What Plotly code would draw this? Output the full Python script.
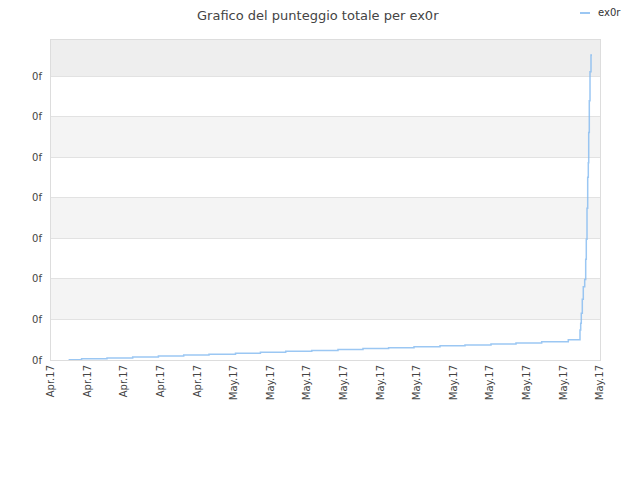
import plotly.graph_objects as go

# score history for ex0r (y in score units, 1000 per gridline)
dates = [
    "2017-04-22 23:05", "2017-04-23 16:08", "2017-04-25 01:26", "2017-04-26 11:08",
    "2017-04-27 20:51", "2017-04-29 06:02", "2017-04-30 15:13", "2017-05-02 01:58",
    "2017-05-03 10:38", "2017-05-04 19:48", "2017-05-06 06:01", "2017-05-07 16:23",
    "2017-05-09 01:10", "2017-05-10 10:45", "2017-05-11 20:04", "2017-05-13 06:10",
    "2017-05-14 14:57", "2017-05-16 01:03", "2017-05-17 09:50", "2017-05-18 19:32",
    "2017-05-20 06:26", "2017-05-20 21:46", "2017-05-20 22:41", "2017-05-20 23:28",
    "2017-05-21 00:47", "2017-05-21 02:05", "2017-05-21 03:56", "2017-05-21 05:15",
    "2017-05-21 06:01", "2017-05-21 06:58", "2017-05-21 07:52", "2017-05-21 08:40",
    "2017-05-21 09:12", "2017-05-21 09:58", "2017-05-21 10:54", "2017-05-21 12:12",
    "2017-05-21 13:31",
]
scores = [
    5, 28, 52, 75, 98, 122, 145, 168, 190, 213, 236, 258, 281, 304, 326, 349,
    372, 394, 417, 450, 500, 740, 905, 1153, 1498, 1810, 1990, 2486, 2980,
    3745, 4510, 4870, 5615, 6400, 7115, 7530, 7530,
]
y_ticks = [0, 1000, 2000, 3000, 4000, 5000, 6000, 7000]
y_labels = ["0f"] * len(y_ticks)
series_name = "ex0r"
title = "Grafico del punteggio totale per ex0r"

line_color = "rgba(130,185,240,0.8)"

fig = go.Figure()

fig.add_trace(go.Scatter(
    x=dates, y=scores, name=series_name,
    mode="lines", line_shape="hv",
    line=dict(color=line_color, width=1.5),
    showlegend=False,
))

# alternating background bands
for i, lo in enumerate(y_ticks):
    if i % 2 == 1:
        hi = y_ticks[i + 1] if i + 1 < len(y_ticks) else 7900
        fig.add_shape(type="rect", xref="paper", yref="y", x0=0, x1=1, y0=lo, y1=hi,
                      fillcolor="#f4f4f4", line_width=0, layer="below")
fig.add_shape(type="rect", xref="paper", yref="y", x0=0, x1=1, y0=7000, y1=7900,
              fillcolor="#eeeeee", line_width=0, layer="below")

# legend swatch
fig.add_shape(type="line", xref="paper", yref="paper", x0=0.9636, x1=0.9818,
              y0=1.0 + 27 / 320, y1=1.0 + 27 / 320, line=dict(color=line_color, width=2))
fig.add_annotation(text=series_name, xref="paper", yref="paper", x=0.993, y=1.0 + 27 / 320,
                   xanchor="left", yanchor="middle", showarrow=False,
                   font=dict(size=10, color="#333333"))

# page has an 8px body margin, so the margins are shifted to compensate
fig.update_layout(
    width=640, height=480,
    margin=dict(l=43, r=48, t=32, b=128),
    paper_bgcolor="white", plot_bgcolor="white",
    font=dict(family="DejaVu Sans", size=10, color="#444444"),
    title=dict(text=title, x=0.484, xanchor="center", y=0.993, yanchor="top",
               pad=dict(t=0, b=0), font=dict(size=13, color="#444444")),
)
fig.update_xaxes(
    type="date", range=["2017-04-22", "2017-05-22"],
    tick0="2017-04-22", dtick=2 * 86400000, tickformat="%b.%y",
    tickangle=-90, showgrid=False, showline=True, mirror=True,
    linecolor="#dddddd", linewidth=1, ticks="", zeroline=False,
)
fig.update_yaxes(
    range=[0, 7900], tickvals=y_ticks, ticktext=y_labels,
    showgrid=True, gridcolor="#e2e2e2", showline=True, mirror=True,
    linecolor="#dddddd", linewidth=1, ticks="", zeroline=False, ticklabelstandoff=6,
)

fig.write_html("out.html")
